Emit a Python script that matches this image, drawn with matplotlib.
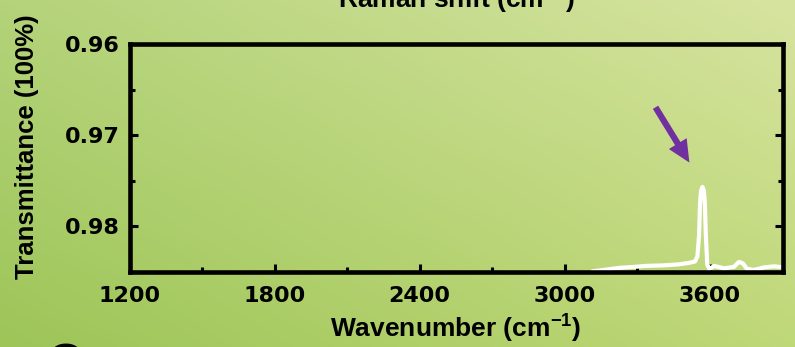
import numpy as np
import matplotlib
matplotlib.use("Agg")
import matplotlib.pyplot as plt
from matplotlib.patches import FancyArrowPatch
from matplotlib.patches import ArrowStyle

plt.rcParams["font.family"] = ["Liberation Sans", "DejaVu Sans"]
plt.rcParams["font.weight"] = "bold"
plt.rcParams["mathtext.fontset"] = "custom"
plt.rcParams["mathtext.rm"] = "Liberation Sans:bold"
plt.rcParams["mathtext.default"] = "rm"

# Spectrum (wavenumber in cm^-1, transmittance)
wavenumber = [3113, 3162, 3224, 3286, 3336, 3410, 3472, 3513, 3538, 3548,
              3555, 3559, 3563, 3569, 3575, 3579, 3583, 3589, 3598, 3617,
              3658, 3699, 3720, 3736, 3753, 3782, 3823, 3864, 3889]
transmittance = [0.98493, 0.98477, 0.98455, 0.98444, 0.98433, 0.98427,
                 0.98416, 0.98400, 0.98385, 0.98330, 0.98100, 0.97750,
                 0.97610, 0.97567, 0.97610, 0.97750, 0.98100, 0.98420,
                 0.98470, 0.98433, 0.98460, 0.98444, 0.98389, 0.98405,
                 0.98465, 0.98477, 0.98450, 0.98438, 0.98444]

x_ticks = [1200, 1800, 2400, 3000, 3600]
y_ticks = [0.96, 0.97, 0.98]

# Arrow marking the peak (data coordinates: tail, head)
arrow_tail = (3369, 0.96668)
arrow_head = (3521, 0.97326)

W, H = 795, 347
fig = plt.figure(figsize=(W / 100, H / 100), dpi=100)

# Green gradient background
bg = fig.add_axes([0, 0, 1, 1], zorder=-10)
tl = np.array([180, 211, 122]) / 255
tr = np.array([215, 228, 160]) / 255
bl = np.array([157, 197, 88]) / 255
br = np.array([191, 216, 120]) / 255
u = np.linspace(0, 1, W)[None, :, None]
v = np.linspace(0, 1, H)[:, None, None]
img = (1 - v) * ((1 - u) * tl + u * tr) + v * ((1 - u) * bl + u * br)
bg.imshow(img, aspect="auto", extent=[0, 1, 0, 1], interpolation="bilinear")
bg.axis("off")

ax = fig.add_axes([129.5 / W, (H - 272) / H, (782.5 - 129.5) / W, (272 - 44) / H])
ax.patch.set_alpha(0)

ax.plot(wavenumber, transmittance, color="white", lw=3.0,
        solid_joinstyle="round", solid_capstyle="round")

ax.set_xlim(1200, 3900)
ax.set_ylim(0.985, 0.96)

ax.set_xticks(x_ticks)
ax.set_xticks([1500, 2100, 2700, 3300], minor=True)
ax.set_yticks(y_ticks)
ax.set_yticks([0.965, 0.975], minor=True)
ax.set_xticklabels([str(t) for t in x_ticks])
ax.set_yticklabels([f"{t:.2f}" for t in y_ticks])

for sp in ax.spines.values():
    sp.set_linewidth(3.3)
    sp.set_color("black")

ax.tick_params(which="both", direction="in", top=False, right=True,
               width=2.2, color="black")
ax.tick_params(which="major", length=6)
ax.tick_params(which="minor", length=3.5)
ax.tick_params(axis="x", which="major", pad=10)
ax.tick_params(axis="y", which="major", pad=7)
for lab in ax.get_xticklabels() + ax.get_yticklabels():
    lab.set_fontfamily("DejaVu Sans")
    lab.set_fontweight("bold")
    lab.set_fontsize(16)

arrow = FancyArrowPatch(arrow_tail, arrow_head,
                        arrowstyle=ArrowStyle.Simple(head_length=16, head_width=15,
                                                     tail_width=4.5),
                        mutation_scale=1, color="#7030A0", lw=0, zorder=5)
ax.add_patch(arrow)

fig.text(456 / W, 1 - 338 / H, r"Wavenumber (cm$^{-1}$)", ha="center",
         va="baseline", fontsize=19, fontweight="bold")
fig.text(27 / W, 1 - 147 / H, "Transmittance (100%)", rotation=90,
         ha="center", va="center", fontsize=18.5, fontweight="bold")
fig.text(456 / W, 1 - 9 / H, r"Raman shift (cm$^{-1}$)", ha="center",
         va="baseline", fontsize=19, fontweight="bold")
fig.text(67 / W, 6 / H, ")", rotation=90, ha="center", va="top",
         fontsize=19, fontweight="bold")

fig.savefig("out.png", dpi=100)
